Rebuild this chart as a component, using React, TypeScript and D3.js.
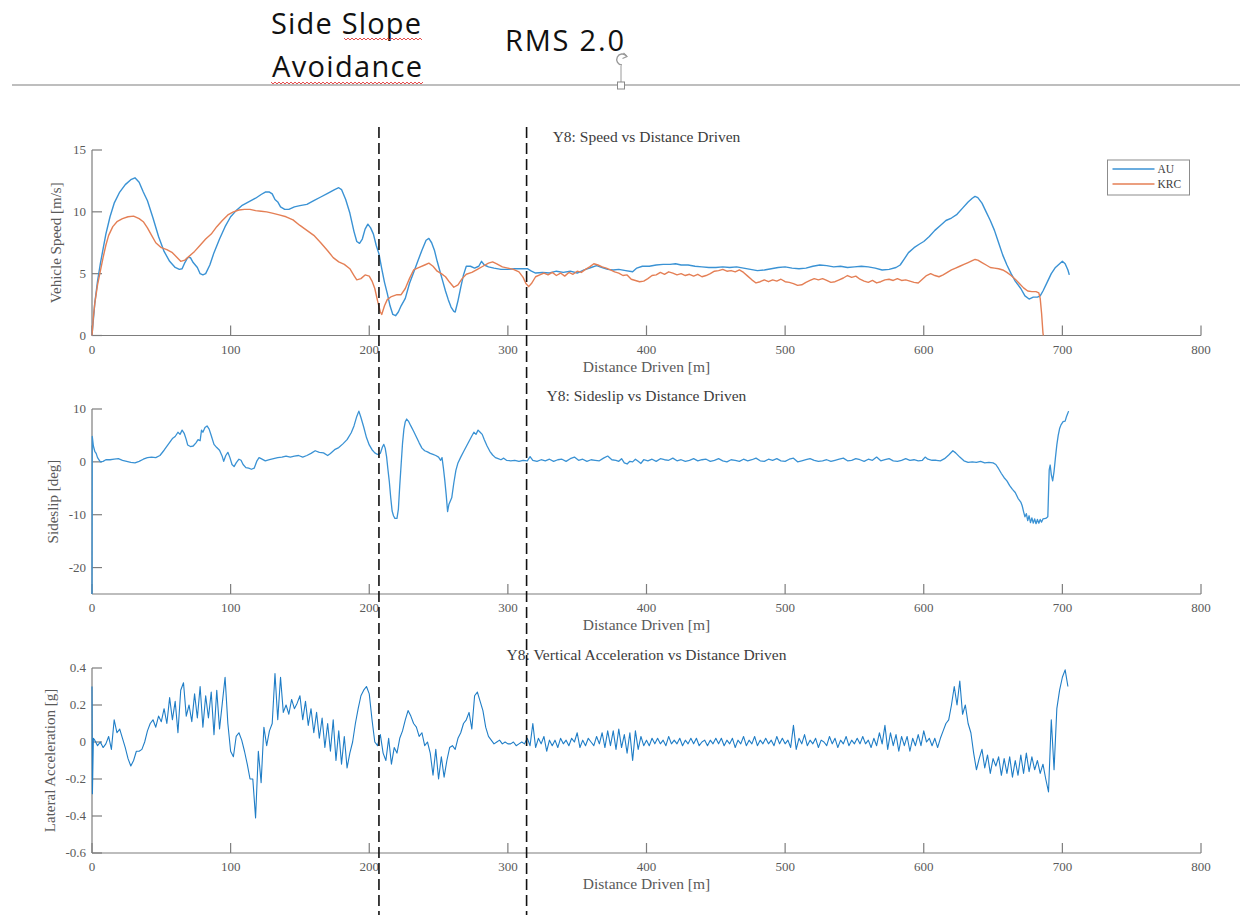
import React from "react";
import * as d3 from "d3";

// ---------- data ----------
const distanceTicks = [0, 100, 200, 300, 400, 500, 600, 700, 800];
const speedTicks = [0, 5, 10, 15];
const sideslipTicks = [-20, -10, 0, 10];
const accelTicks = [-0.6, -0.4, -0.2, 0, 0.2, 0.4];

// section boundaries marked on the run [m]
const sectionMarks = [207, 313.5];

const seriesNames = ["AU", "KRC"];

// vehicle speed [m/s] vs distance [m]
const speedAU: [number, number][] = [
  [0,0],[2,2.6],[4,4.4],[6,5.8],[8,7.0],[10,8.2],[13,9.6],[16,10.7],[20,11.6],[24,12.2],[28,12.6],[31,12.75],[34,12.4],[37,11.6],[40,10.9],[44,9.5],[48,8.0],[52,6.8],[56,6.0],[60,5.5],[63,5.35],[65,5.4],[67,5.9],[69,6.3],[71,6.3],[73,5.9],[76,5.5],[78,5.0],[80,4.9],[82,5.0],[85,5.7],[88,6.7],[92,7.8],[96,8.8],[100,9.6],[104,10.1],[108,10.5],[113,10.8],[118,11.1],[122,11.4],[125,11.6],[128,11.6],[130,11.45],[132,11.0],[134,10.8],[136,10.4],[139,10.2],[142,10.2],[146,10.4],[150,10.5],[155,10.6],[160,10.9],[165,11.2],[170,11.5],[175,11.8],[178,11.95],[180,11.8],[183,11.0],[186,9.9],[189,8.4],[191,7.6],[193,7.45],[195,7.8],[197,8.6],[199,9.0],[201,8.7],[203,8.2],[205,7.3],[207,6.6],[209,5.4],[211,4.3],[213,3.4],[215,2.4],[217,1.7],[219,1.6],[221,1.9],[223,2.4],[226,3.0],[229,4.2],[232,5.1],[235,6.0],[238,6.9],[241,7.7],[243,7.85],[245,7.5],[247,6.9],[249,6.0],[251,5.2],[253,4.4],[255,3.6],[257,2.9],[259,2.3],[261,1.95],[262,1.9],[264,2.8],[266,3.9],[268,4.9],[270,5.6],[273,5.6],[276,5.45],[279,5.6],[281,6.0],[283,5.7],[286,5.55],[290,5.45],[295,5.35],[300,5.35],[305,5.4],[310,5.4],[314,5.4],[317,5.2],[320,5.05],[325,5.1],[330,5.05],[335,5.2],[340,5.1],[345,5.2],[350,5.05],[355,5.3],[360,5.5],[364,5.65],[368,5.5],[372,5.35],[376,5.3],[380,5.35],[385,5.25],[390,5.15],[393,5.45],[397,5.6],[402,5.6],[407,5.7],[412,5.75],[417,5.75],[421,5.8],[425,5.7],[430,5.7],[435,5.6],[440,5.55],[445,5.5],[450,5.5],[455,5.55],[460,5.5],[465,5.55],[470,5.45],[475,5.35],[480,5.25],[485,5.3],[490,5.4],[495,5.5],[500,5.55],[505,5.45],[510,5.4],[515,5.45],[520,5.6],[525,5.7],[530,5.65],[535,5.55],[540,5.6],[545,5.5],[550,5.55],[555,5.6],[560,5.55],[565,5.45],[570,5.3],[575,5.35],[580,5.5],[583,5.7],[586,6.2],[589,6.7],[593,7.1],[597,7.4],[600,7.6],[604,8.0],[608,8.5],[612,8.9],[616,9.3],[620,9.5],[624,9.8],[628,10.3],[632,10.8],[635,11.1],[637,11.25],[639,11.15],[642,10.7],[645,10.0],[648,9.3],[651,8.5],[654,7.5],[657,6.5],[660,5.7],[663,5.0],[666,4.4],[670,3.8],[673,3.2],[676,2.95],[679,3.1],[682,3.1],[684,3.2],[686,3.6],[689,4.3],[692,5.0],[695,5.5],[698,5.8],[700,6.0],[702,5.8],[704,5.3],[705,4.9],
];

const speedKRC: [number, number][] = [
  [0,0],[1,1.5],[2,2.6],[4,4.1],[6,5.2],[8,6.3],[10,7.3],[12,8.1],[15,8.8],[18,9.2],[22,9.45],[26,9.6],[30,9.65],[34,9.45],[37,9.2],[40,8.7],[43,8.1],[46,7.5],[50,7.1],[54,6.95],[58,6.7],[61,6.35],[64,6.0],[67,6.1],[70,6.4],[74,6.8],[78,7.3],[82,7.8],[86,8.2],[90,8.8],[94,9.3],[98,9.75],[102,10.0],[106,10.15],[110,10.2],[114,10.2],[118,10.1],[122,10.05],[126,10.0],[130,9.9],[135,9.75],[140,9.6],[145,9.35],[150,8.9],[155,8.5],[160,8.1],[165,7.5],[170,6.85],[174,6.3],[178,5.95],[182,5.75],[186,5.4],[189,4.85],[191,4.5],[194,4.6],[197,4.9],[200,4.8],[202,4.4],[204,3.8],[206,2.8],[208,1.9],[209,1.7],[211,2.4],[213,2.9],[216,3.15],[220,3.3],[223,3.3],[226,3.8],[229,4.6],[232,5.3],[236,5.5],[240,5.7],[243,5.85],[246,5.6],[249,5.2],[252,5.0],[255,4.75],[258,4.3],[261,3.9],[264,4.1],[267,4.6],[270,4.95],[274,5.1],[278,5.35],[282,5.6],[286,5.85],[289,5.95],[292,5.8],[296,5.55],[300,5.45],[304,5.35],[308,5.15],[311,4.7],[313,4.2],[315,3.95],[317,4.2],[320,4.75],[323,4.9],[326,5.05],[329,4.9],[332,5.1],[335,4.85],[338,5.05],[341,4.8],[344,5.1],[347,4.95],[350,5.2],[353,5.1],[356,5.35],[359,5.55],[362,5.8],[365,5.7],[368,5.55],[371,5.45],[374,5.3],[377,5.15],[380,5.05],[383,4.85],[386,4.9],[389,4.55],[392,4.45],[395,4.35],[398,4.4],[401,4.6],[404,4.85],[407,4.9],[410,5.1],[413,4.95],[416,5.15],[419,5.05],[422,4.9],[425,5.0],[428,4.85],[431,4.95],[434,4.8],[437,4.95],[440,4.75],[443,4.85],[446,5.0],[449,5.2],[452,5.25],[455,5.35],[458,5.2],[461,5.25],[464,5.15],[467,5.3],[470,5.1],[473,4.8],[476,4.5],[479,4.25],[482,4.35],[485,4.5],[488,4.35],[491,4.5],[494,4.4],[497,4.55],[500,4.35],[503,4.3],[506,4.2],[509,4.05],[512,4.1],[515,4.3],[518,4.45],[521,4.6],[524,4.5],[527,4.6],[530,4.45],[533,4.3],[536,4.35],[539,4.5],[542,4.65],[545,4.85],[548,4.7],[551,4.8],[554,4.55],[557,4.4],[560,4.3],[563,4.45],[566,4.25],[569,4.35],[572,4.5],[575,4.55],[578,4.45],[581,4.6],[584,4.45],[587,4.5],[590,4.4],[593,4.3],[596,4.25],[599,4.55],[602,4.85],[605,5.0],[608,4.85],[611,4.75],[614,4.9],[617,5.1],[620,5.3],[623,5.45],[626,5.6],[629,5.75],[632,5.9],[635,6.05],[637,6.15],[639,6.1],[642,5.9],[645,5.7],[648,5.5],[651,5.45],[654,5.4],[657,5.3],[660,5.1],[663,4.85],[666,4.55],[669,4.2],[672,3.85],[675,3.6],[678,3.55],[681,3.55],[683,3.45],[684,3.0],[685,1.8],[686,0.2],[686.3,0],
];

// sideslip [deg] vs distance [m]
const sideslipAU: [number, number][] = [
  [0,-25],[0.2,4.8],[1,3.0],[2,2.0],[3,1.6],[4,0.8],[6,0.0],[8,0.1],[10,0.4],[13,0.4],[16,0.5],[19,0.6],[22,0.3],[25,0.1],[28,-0.1],[31,-0.2],[34,0.1],[37,0.5],[40,0.8],[43,0.9],[46,0.8],[49,1.2],[52,2.2],[55,3.3],[58,4.4],[60,4.8],[62,5.6],[63.5,5.2],[65,6.0],[66.5,5.4],[68,4.2],[69,3.2],[71,2.9],[73,3.0],[75,3.6],[76.5,4.2],[78,4.0],[79,6.0],[80,5.6],[81.5,6.5],[83,6.8],[84.5,6.2],[86,5.0],[88,3.3],[90,2.7],[92,2.2],[94,1.0],[95,0.1],[96.5,1.2],[98,1.8],[99.5,0.8],[101,-0.5],[102.5,-0.9],[104,-0.2],[106,0.5],[107.5,0.3],[109,-0.5],[111,-1.1],[113,-1.2],[115,-1.4],[117,-1.2],[119,0.2],[120.5,0.8],[122,0.6],[125,0.2],[128,0.4],[131,0.6],[134,0.8],[137,0.9],[140,1.1],[143,0.9],[146,1.1],[149,1.2],[152,0.9],[155,1.2],[158,1.6],[161,2.1],[164,1.8],[167,1.7],[170,1.2],[172,1.6],[175,2.3],[178,2.7],[181,3.4],[184,4.2],[187,5.5],[189,6.8],[191,8.6],[192.5,9.6],[194,8.4],[196,6.6],[198,4.6],[200,3.2],[202,2.3],[204,1.7],[206,1.4],[208,1.6],[209.5,2.8],[210.5,3.3],[211.5,2.6],[212.5,1.0],[213.5,-1.5],[214.5,-3.8],[215.5,-6.8],[216.5,-9.3],[217.5,-10.2],[218.5,-10.7],[220,-10.7],[221,-9.0],[222,-4.5],[223,-0.5],[224,3.5],[225,6.2],[226,7.6],[227,8.1],[228.5,7.6],[230,6.8],[232,5.8],[234,4.7],[236,3.6],[238,2.6],[240,2.1],[242,1.9],[244,1.6],[246,1.4],[248,1.2],[250,0.9],[251.5,0.3],[252.5,0.8],[253.5,-1.2],[254.5,-3.5],[255.5,-6.2],[256.5,-9.4],[257.5,-8.0],[258.5,-7.4],[259.5,-6.8],[261,-4.0],[262.5,-1.6],[264,-0.2],[266,0.9],[268,1.9],[270,2.9],[272,3.9],[274,4.9],[275.5,5.6],[277,5.2],[278.5,6.0],[280,5.6],[281.5,5.2],[283,4.2],[285,3.0],[287,2.0],[289,1.3],[291,0.8],[293,0.6],[295,0.4],[297,0.7],[299,0.3],[302,0.2],[305,0.3],[308,0.1],[311,0.3],[314,0.2],[316,1.0],[318,0.3],[321,0.1],[324,0.4],[327,0.2],[330,0.5],[333,0.1],[336,0.4],[339,0.5],[342,0.1],[345,0.6],[348,0.9],[351,0.3],[354,0.5],[357,0.1],[360,0.4],[363,0.3],[366,0.2],[369,0.7],[372,1.1],[375,0.4],[378,0.3],[380,0.1],[382,0.6],[384,-0.2],[386,-0.4],[388,0.1],[390,0.0],[392,0.5],[394,0.1],[396,-0.3],[398,0.4],[401,0.2],[404,0.5],[407,0.1],[410,0.6],[413,0.4],[416,0.3],[419,0.7],[422,0.2],[425,0.4],[428,0.1],[431,0.3],[434,0.6],[437,0.2],[440,0.4],[443,0.5],[446,0.1],[449,0.3],[452,0.6],[455,0.2],[458,0.0],[461,0.4],[464,0.3],[467,0.1],[470,0.5],[473,0.2],[476,0.4],[479,0.7],[482,0.2],[485,0.1],[488,0.5],[491,0.3],[494,0.6],[497,0.2],[500,0.1],[503,0.5],[506,0.7],[509,0.0],[512,0.2],[515,0.4],[518,0.6],[521,0.3],[524,0.1],[527,0.2],[530,0.4],[533,0.1],[536,0.3],[539,0.5],[542,0.7],[545,0.2],[548,0.3],[551,0.6],[554,0.4],[557,0.1],[560,0.5],[563,0.3],[566,0.9],[569,0.2],[572,0.4],[575,0.6],[578,0.2],[581,0.1],[584,0.3],[587,0.6],[590,0.3],[593,0.4],[596,0.2],[599,0.3],[601,0.9],[603,0.5],[606,0.3],[609,0.3],[612,0.2],[615,0.6],[618,1.3],[621,2.1],[623,1.7],[626,0.9],[629,0.2],[632,-0.1],[635,0.0],[638,-0.1],[641,0.1],[644,-0.2],[647,-0.1],[650,-0.2],[652,-0.5],[654,-1.3],[656,-2.2],[658,-3.0],[660,-3.6],[662,-4.5],[664,-5.2],[666,-5.8],[668,-6.9],[670,-7.6],[671,-8.3],[672,-9.4],[673,-10.4],[674,-9.8],[675,-11.1],[676,-10.2],[677,-11.5],[678,-10.6],[679,-11.6],[680,-10.8],[681,-11.7],[682,-10.9],[683,-11.6],[684,-10.9],[685,-11.4],[686,-10.8],[688,-10.7],[689.5,-10.4],[690.5,-1.5],[691.2,-0.6],[692,-2.4],[693,-3.6],[694,-1.8],[695,0.8],[696,3.2],[697,5.0],[698,6.3],[699,7.0],[700.5,7.6],[702,7.7],[703,8.6],[704.5,9.6],
];

// lateral acceleration [g]: the first samples, then a 2 m grid starting at 2 m
const accelLeadIn: [number, number][] = [[0, 0.3], [0.3, -0.28], [1, 0.02]];
const accelGridStart = 2;
const accelGridStep = 2;
const accelAU = [
  0.01,-0.02,0.0,-0.03,-0.01, 0.03,-0.04,0.12,0.05,0.07, 0.02,-0.03,-0.09,-0.13,-0.1,
  -0.05,-0.05,-0.04,0.0,0.06, 0.1,0.12,0.08,0.14,0.11, 0.18,0.1,0.24,0.12,0.22,
  0.05,0.28,0.32,0.14,0.2, 0.11,0.26,0.13,0.3,0.08, 0.25,0.13,0.27,0.04,0.28,
  0.07,0.21,0.35,0.1,-0.05, -0.08,0.03,0.05,0.01,-0.05, -0.12,-0.2,-0.2,-0.41,-0.05,
  -0.22,0.08,-0.02,0.06,0.1, 0.37,0.12,0.35,0.16,0.2, 0.15,0.23,0.18,0.21,0.25,
  0.12,0.22,0.09,0.18,0.05, 0.16,0.02,0.13,-0.03,0.1, -0.05,0.12,-0.1,0.06,-0.12,
  0.03,-0.14,-0.06,0.0,0.1, 0.18,0.25,0.28,0.3,0.26, 0.12,0.0,-0.02,0.04,-0.06,
  -0.1,0.02,-0.12,-0.03,-0.06, 0.02,0.06,0.12,0.17,0.14, 0.1,0.08,0.03,0.05,-0.02,
  0.0,-0.06,-0.18,-0.04,-0.2, -0.08,-0.19,-0.1,-0.03,-0.02, -0.04,0.02,0.05,0.1,0.12,
  0.16,0.07,0.25,0.27,0.22, 0.17,0.08,0.03,0.01,-0.01,
  // 292 m onwards: steady section
  0.0,0.01,-0.01,0.0,-0.01, -0.01,0.0,-0.02,-0.01,0.0, -0.01,0.02,-0.02,0.1,-0.03,
  0.02,-0.01,0.03,-0.05,0.01, -0.02,0.01,-0.03,0.02,-0.01, 0.01,-0.02,0.02,0.0,0.05,
  -0.03,0.01,-0.02,0.02,0.0, -0.02,0.03,-0.01,0.05,-0.03, 0.06,-0.02,0.06,-0.04,0.07,
  -0.03,0.04,-0.06,0.05,-0.1, 0.06,-0.04,0.03,-0.02,0.01, -0.02,0.02,-0.01,0.02,-0.01,
  0.01,-0.02,0.03,-0.01,0.01, -0.01,0.02,-0.02,0.01,-0.01, 0.02,-0.01,0.02,-0.02,0.0,
  0.01,-0.02,0.01,-0.01,0.02, -0.01,0.02,-0.02,0.01,-0.01, 0.02,-0.03,0.01,-0.01,0.03,
  -0.02,0.01,-0.01,0.03,-0.02, 0.01,-0.01,0.02,-0.01,0.01, -0.02,0.03,-0.01,0.02,-0.01,
  0.01,-0.03,0.09,-0.04,0.02, -0.01,0.04,-0.02,0.01,-0.01, 0.02,-0.03,0.01,0.0,-0.02,
  0.03,-0.01,0.02,-0.03,0.01, -0.01,0.03,-0.02,0.01,-0.01, 0.02,-0.01,0.03,-0.01,0.01,
  -0.03,0.02,-0.02,0.05,-0.01, 0.09,-0.04,0.05,-0.02,0.04, -0.05,0.03,-0.02,0.03,-0.05,
  0.02,-0.02,0.04,-0.02,0.06, 0.0,0.02,-0.02,0.02,-0.03,
  // 612 m onwards
  0.02,0.06,0.1,0.12,0.2, 0.3,0.2,0.33,0.15,0.2,
  0.1,0.05,-0.06,-0.15,-0.09, -0.04,-0.14,-0.07,-0.17,-0.09, -0.13,-0.08,-0.18,-0.09,-0.17,
  -0.08,-0.19,-0.1,-0.18,-0.07, -0.17,-0.06,-0.16,-0.08,-0.15, -0.1,-0.17,-0.12,-0.2,-0.27,
  0.12,-0.15,0.18,0.28,0.35, 0.39,0.3,
];

// ---------- styling ----------
const W = 1259;
const H = 915;
const AXIS = "#7d7d7d";
const TICK_TEXT = "#5a5a5a";
const TITLE_TEXT = "#3c3c3c";
const AU_COLOR = "#3a92d4";
const KRC_COLOR = "#e47f55";
const ACCEL_COLOR = "#1f7dc6";
const SERIF = "'Liberation Serif', 'DejaVu Serif', serif";
const SANS = "'Open Sans', Lato, sans-serif";

const xScale = d3.scaleLinear().domain([0, 800]).range([92, 1201]);

type Panel = {
  title: string;
  yLabel: string;
  domain: [number, number];
  ticks: number[];
  top: number;
  bottom: number;
  yLabelX: number;
};

const panels: Panel[] = [
  { title: "Y8:  Speed vs Distance Driven", yLabel: "Vehicle Speed [m/s]", domain: [0, 15], ticks: speedTicks, top: 150, bottom: 335.5, yLabelX: 58 },
  { title: "Y8:  Sideslip vs Distance Driven", yLabel: "Sideslip [deg]", domain: [-25, 10], ticks: sideslipTicks, top: 409, bottom: 594, yLabelX: 55 },
  { title: "Y8:  Vertical Acceleration vs Distance Driven", yLabel: "Lateral Acceleration [g]", domain: [-0.6, 0.4], ticks: accelTicks, top: 668, bottom: 853, yLabelX: 52 },
];

const fmt = (v: number) => (Math.abs(v) < 1e-9 ? "0" : String(+v.toFixed(1)));

function Axes({ p }: { p: Panel }) {
  const y = d3.scaleLinear().domain(p.domain).range([p.bottom, p.top]);
  const [x0, x1] = xScale.range();
  const tickLen = 10;
  const midX = (x0 + x1) / 2;
  return (
    <g>
      <line x1={x0} x2={x1} y1={p.bottom} y2={p.bottom} stroke={AXIS} strokeWidth={1.2} />
      <line x1={x0} x2={x0} y1={p.top} y2={p.bottom} stroke={AXIS} strokeWidth={1.2} />
      {distanceTicks.map((t) => (
        <g key={"x" + t}>
          <line x1={xScale(t)} x2={xScale(t)} y1={p.bottom} y2={p.bottom - tickLen} stroke={AXIS} strokeWidth={1.2} />
          <text x={xScale(t)} y={p.bottom + 18} textAnchor="middle" fontFamily={SERIF} fontSize={13} fill={TICK_TEXT}>
            {t}
          </text>
        </g>
      ))}
      {p.ticks.map((t) => (
        <g key={"y" + t}>
          <line x1={x0} x2={x0 + tickLen} y1={y(t)} y2={y(t)} stroke={AXIS} strokeWidth={1.2} />
          <text x={x0 - 6} y={y(t) + 4} textAnchor="end" fontFamily={SERIF} fontSize={13} fill={TICK_TEXT}>
            {fmt(t)}
          </text>
        </g>
      ))}
      <text x={midX} y={p.top - 8} textAnchor="middle" fontFamily={SERIF} fontSize={15.5} fill={TITLE_TEXT}>
        {p.title}
      </text>
      <text x={midX} y={p.bottom + 36} textAnchor="middle" fontFamily={SERIF} fontSize={15.5} fill={TICK_TEXT}>
        Distance Driven [m]
      </text>
      <text
        transform={`translate(${p.yLabelX},${(p.top + p.bottom) / 2}) rotate(-90)`}
        textAnchor="middle"
        dominantBaseline="middle"
        fontFamily={SERIF}
        fontSize={15}
        fill={TICK_TEXT}
      >
        {p.yLabel}
      </text>
    </g>
  );
}

function squiggle(xa: number, xb: number, yb: number) {
  const pts: string[] = [];
  let up = true;
  for (let x = xa; x <= xb; x += 2) {
    pts.push(`${x},${up ? yb : yb + 2}`);
    up = !up;
  }
  return pts.join(" ");
}

export default function App() {
  const [speedP, slipP, accP] = panels;
  const ySpeed = d3.scaleLinear().domain(speedP.domain).range([speedP.bottom, speedP.top]);
  const ySlip = d3.scaleLinear().domain(slipP.domain).range([slipP.bottom, slipP.top]);
  const yAcc = d3.scaleLinear().domain(accP.domain).range([accP.bottom, accP.top]);

  const lineOf = (ys: d3.ScaleLinear<number, number>) =>
    d3.line<[number, number]>().x((d) => xScale(d[0])).y((d) => ys(d[1]));

  const accelPoints: [number, number][] = [
    ...accelLeadIn,
    ...accelAU.map((v, i) => [accelGridStart + i * accelGridStep, v] as [number, number]),
  ];

  const legX = 1107.5;
  const legY = 160;

  return (
    <svg width={W} height={H} style={{ position: "absolute", left: 0, top: 0, background: "#fff" }}>
      <rect width={W} height={H} fill="#fff" />

      {/* document header */}
      <text x={271} y={34} fontFamily={SANS} fontSize={29} fill="#111" textLength={150}>Side Slope</text>
      <text x={272} y={77} fontFamily={SANS} fontSize={29} fill="#111" textLength={150}>Avoidance</text>
      <text x={505} y={51} fontFamily={SANS} fontSize={29} fill="#111" textLength={119}>RMS 2.0</text>
      <polyline points={squiggle(344, 422, 38)} fill="none" stroke="#e23a3a" strokeWidth={0.9} />
      <polyline points={squiggle(271, 424, 82)} fill="none" stroke="#e23a3a" strokeWidth={0.9} />
      <line x1={12} x2={1240} y1={85} y2={85} stroke="#a9a9a9" strokeWidth={1.5} />
      {/* rotation handle */}
      <path d="M 626.5 56 A 5.5 5.5 0 1 0 622 65" fill="none" stroke="#9a9a9a" strokeWidth={1.4} />
      <path d="M 623.5 53 L 627 56.5 L 622.5 58.5" fill="none" stroke="#9a9a9a" strokeWidth={1.2} />
      <line x1={621} x2={621} y1={66} y2={82} stroke="#9a9a9a" strokeWidth={1} />
      <rect x={617.5} y={82} width={7} height={7} fill="#fff" stroke="#8a8a8a" strokeWidth={1} />

      {panels.map((p) => (
        <Axes key={p.title} p={p} />
      ))}

      {/* speed */}
      <path d={lineOf(ySpeed)(speedAU) ?? ""} fill="none" stroke={AU_COLOR} strokeWidth={1.4} strokeLinejoin="round" />
      <path d={lineOf(ySpeed)(speedKRC) ?? ""} fill="none" stroke={KRC_COLOR} strokeWidth={1.4} strokeLinejoin="round" />

      {/* legend */}
      <rect x={legX} y={legY} width={82} height={35} fill="#fff" stroke="#8c8c8c" strokeWidth={1} />
      {seriesNames.map((n, i) => (
        <g key={n}>
          <line x1={legX + 5} x2={legX + 47} y1={legY + 9 + i * 15} y2={legY + 9 + i * 15} stroke={i === 0 ? AU_COLOR : KRC_COLOR} strokeWidth={1.4} />
          <text x={legX + 50} y={legY + 13 + i * 15} fontFamily={SERIF} fontSize={11.5} fill={TITLE_TEXT}>
            {n}
          </text>
        </g>
      ))}

      {/* sideslip */}
      <path d={lineOf(ySlip)(sideslipAU) ?? ""} fill="none" stroke={AU_COLOR} strokeWidth={1.3} strokeLinejoin="round" />

      {/* lateral acceleration */}
      <path d={lineOf(yAcc)(accelPoints) ?? ""} fill="none" stroke={ACCEL_COLOR} strokeWidth={1.1} strokeLinejoin="round" />

      {/* section boundaries */}
      {sectionMarks.map((d) => (
        <line key={d} x1={xScale(d)} x2={xScale(d)} y1={127} y2={H} stroke="#111" strokeWidth={1.6} strokeDasharray="11,5" />
      ))}
    </svg>
  );
}
